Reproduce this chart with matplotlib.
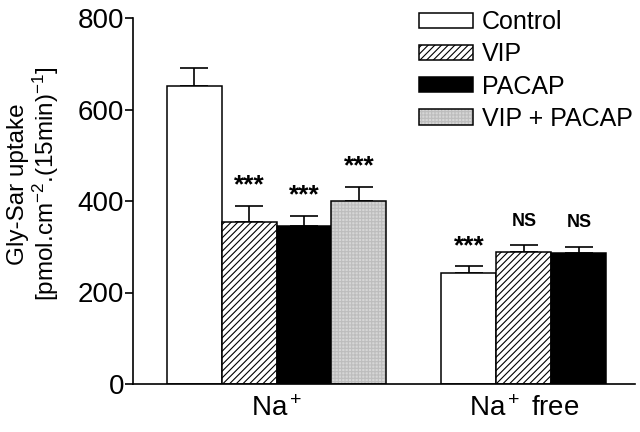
import matplotlib
matplotlib.use('Agg')
import matplotlib.pyplot as plt
import matplotlib.patches as mpatches
from matplotlib.legend_handler import HandlerTuple

plt.rcParams['font.family'] = ['Liberation Sans', 'DejaVu Sans']
plt.rcParams['mathtext.fontset'] = 'custom'
plt.rcParams['mathtext.rm'] = 'Liberation Sans'
plt.rcParams['mathtext.it'] = 'Liberation Sans:italic'
plt.rcParams['hatch.linewidth'] = 0.8

groups = ['Na$^+$', 'Na$^+$ free']
series = ['Control', 'VIP', 'PACAP', 'VIP + PACAP']

# values per series: [Na+, Na+ free]
control = [651, 242]
vip = [355, 289]
pacap = [346, 287]
vip_pacap = [401]

control_err = [39, 15]
vip_err = [34, 15]
pacap_err = [21, 13]
vip_pacap_err = [30]

control_sig = ['', '***']
vip_sig = ['***', 'NS']
pacap_sig = ['***', 'NS']
vip_pacap_sig = ['***']

fig = plt.figure(figsize=(6.4, 4.32), dpi=100)
ax = fig.add_axes([133/640, 1-384/432, 502/640, 366/432])

group_start = [0, 5]
w = 1.0
lw = 1.1
grey = '#d6d6d6'
grey_edge = '#bdbdbd'

def draw(idx, vals, errs, sigs, **kw):
    xs = [group_start[g] + idx for g in range(len(vals))]
    bars = ax.bar(xs, vals, width=w, linewidth=lw, zorder=2, **kw)
    ax.errorbar(xs, vals, yerr=[[0]*len(vals), errs], fmt='none', ecolor='black',
                elinewidth=1.2, capsize=10, capthick=1.2, zorder=1)
    for x, v, e, s in zip(xs, vals, errs, sigs):
        if s == '***':
            ax.annotate(s, (x, v + e), xytext=(0, 6), textcoords='offset points',
                        ha='center', va='bottom', fontsize=19, fontweight='bold')
        elif s:
            ax.annotate(s, (x, v + e), xytext=(0, 11), textcoords='offset points',
                        ha='center', va='bottom', fontsize=13, fontweight='bold')
    return bars

draw(0, control, control_err, control_sig, color='white', edgecolor='black')
draw(1, vip, vip_err, vip_sig, color='white', edgecolor='black', hatch='/////')
draw(2, pacap, pacap_err, pacap_sig, color='black', edgecolor='black')
# grey fine grid fill, then black outline on top
xs4 = [group_start[g] + 3 for g in range(len(vip_pacap))]
ax.bar(xs4, vip_pacap, width=w, color=grey, edgecolor=grey_edge, linewidth=0,
       hatch='+++++', zorder=2)
draw(3, vip_pacap, vip_pacap_err, vip_pacap_sig, fill=False, edgecolor='black')

ax.set_xlim(-1.11, 8.02)
ax.set_ylim(0, 800)
ax.set_yticks([0, 200, 400, 600, 800])
ax.set_xticks([1.5, 6])
ax.set_xticklabels(groups)
ax.tick_params(axis='y', direction='out', length=5.5, width=1.2, pad=1, labelsize=20)
ax.tick_params(axis='x', length=0, pad=9, labelsize=20)
for s in ['top', 'right']:
    ax.spines[s].set_visible(False)
for s in ['left', 'bottom']:
    ax.spines[s].set_linewidth(1.2)

fig.text(34/640, 1-184/432, 'Gly-Sar uptake\n[pmol.cm$^{-2}$.(15min)$^{-1}$]',
         rotation=90, ha='center', va='center', multialignment='center',
         fontsize=17.5, linespacing=1.1)

h1 = mpatches.Patch(facecolor='white', edgecolor='black', linewidth=lw)
h2 = mpatches.Patch(facecolor='white', edgecolor='black', linewidth=lw, hatch='/////')
h3 = mpatches.Patch(facecolor='black', edgecolor='black', linewidth=lw)
h4a = mpatches.Patch(facecolor=grey, edgecolor=grey_edge, linewidth=0, hatch='+++++')
h4b = mpatches.Patch(fill=False, edgecolor='black', linewidth=lw)
ax.legend([h1, h2, h3, (h4a, h4b)], series,
          handler_map={tuple: HandlerTuple(ndivide=1, pad=0)},
          loc='upper left', bbox_to_anchor=(419/640, 1-10/432), bbox_transform=fig.transFigure,
          frameon=False, fontsize=18, handlelength=2.15, handleheight=0.56,
          handletextpad=0.35, labelspacing=0.33, borderpad=0, borderaxespad=0)

fig.savefig('out.png', dpi=100)
